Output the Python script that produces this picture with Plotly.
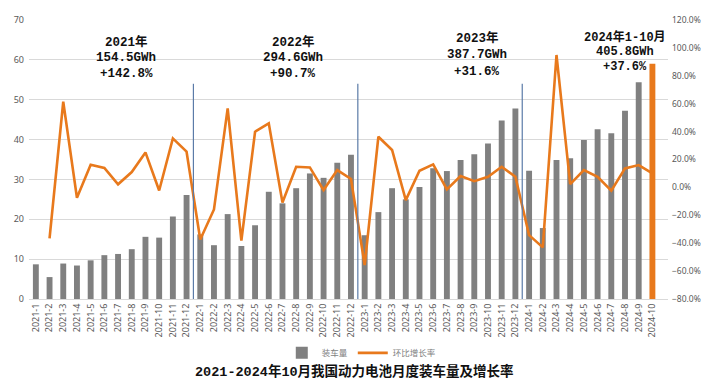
import plotly.graph_objects as go

years = [2021, 2022, 2023, 2024]
months_per_year = [12, 12, 12, 10]
categories = [f"{y}-{m}" for y, n in zip(years, months_per_year) for m in range(1, n + 1)]

install_2021 = [8.7, 5.5, 8.9, 8.4, 9.7, 11.0, 11.3, 12.5, 15.6, 15.4, 20.7, 26.1]
install_2022 = [16.2, 13.5, 21.3, 13.3, 18.5, 26.9, 24.0, 27.8, 31.5, 30.4, 34.2, 36.2]
install_2023 = [16.0, 21.8, 27.8, 25.0, 28.1, 32.8, 32.1, 34.9, 36.3, 39.0, 44.8, 47.8]
install_2024 = [32.2, 17.8, 34.9, 35.3, 39.9, 42.6, 41.6, 47.2, 54.4, 59.0]

mom_2021 = [None, -36.6, 61.4, -7.4, 16.2, 13.9, 2.2, 11.0, 25.1, -2.2, 35.1, 25.6]
mom_2022 = [-37.3, -15.8, 56.6, -38.2, 39.9, 45.9, -10.8, 14.8, 14.3, -1.9, 12.4, 6.0]
mom_2023 = [-55.7, 36.3, 26.8, -9.1, 11.9, 16.5, -1.4, 8.1, 4.5, 7.6, 14.8, 7.6]
mom_2024 = [-34.2, -43.0, 94.9, 2.4, 12.4, 7.6, -2.4, 13.6, 16.0, 10.0]

year_labels = ["2021年", "2022年", "2023年", "2024年1-10月"]
year_totals = ["154.5GWh", "294.6GWh", "387.7GWh", "405.8GWh"]
year_growth = ["+142.8%", "+90.7%", "+31.6%", "+37.6%"]

install = install_2021 + install_2022 + install_2023 + install_2024
mom = mom_2021 + mom_2022 + mom_2023 + mom_2024

GREY = "#808080"
ORANGE = "#E8791C"
bar_colors = [GREY] * (len(install) - 1) + [ORANGE]

mono = "Liberation Mono, Noto Sans Mono CJK SC, Noto Sans CJK SC"
tickfont = dict(family="Noto Sans, Noto Sans CJK SC", size=9, color="#595959")

fig = go.Figure()
fig.add_trace(go.Bar(x=categories, y=install, name="装车量", marker_color=bar_colors,
                     marker_line_width=0, yaxis="y"))
fig.add_trace(go.Scatter(x=categories, y=mom, name="环比增长率", mode="lines",
                         line=dict(color=ORANGE, width=2.6), yaxis="y2", connectgaps=False))

shapes = []
annotations = []
# annotation layout: paper-y of first line centre, line step (paper), x offset, font size
ann_y = [0.921, 0.921, 0.935, 0.939]
ann_step = [0.0573, 0.0573, 0.0600, 0.0530]
ann_dx = [1.1, 1.3, 2.7, 2.5]
ann_size = [12.5, 12.5, 12.5, 12]
start = 0
for i, n in enumerate(months_per_year):
    end = start + n
    if i < len(months_per_year) - 1:
        shapes.append(dict(type="line", xref="x", yref="y", x0=end - 0.5, x1=end - 0.5,
                           y0=0, y1=54, line=dict(color="#5B7BA8", width=1.2)))
    center = (start + end - 1) / 2 + ann_dx[i]
    for k, txt in enumerate([year_labels[i], year_totals[i], year_growth[i]]):
        annotations.append(dict(
            x=center, y=ann_y[i] - k * ann_step[i], xref="x", yref="paper", yanchor="middle",
            text=txt, showarrow=False, align="center",
            font=dict(family=mono, size=ann_size[i], color="#111111", weight="bold")))
    start = end

annotations.append(dict(
    x=0.5, y=0.0, xref="paper", yref="paper", xanchor="center", yanchor="middle",
    xshift=6, yshift=-72,
    text="<b>2021-2024年10月我国动力电池月度装车量及增长率</b>", showarrow=False,
    font=dict(family=mono, size=13.5, color="#111111")))

fig.update_layout(
    width=720, height=380,
    margin=dict(l=29, r=52, t=20, b=81, autoexpand=False),
    paper_bgcolor="white", plot_bgcolor="white",
    bargap=0.57,
    showlegend=True,
    legend=dict(orientation="h", x=0.52, xanchor="center", y=-0.141, yanchor="top",
                font=dict(family="Noto Sans CJK SC", size=8.5, color="#7f7f7f"),
                traceorder="normal", tracegroupgap=0, itemwidth=30),
    xaxis=dict(type="category", tickangle=-90, automargin=False,
               tickfont=dict(family="Noto Sans, Noto Sans CJK SC", size=9, color="#595959"),
               showgrid=False, showline=True, linecolor="#d9d9d9", ticks="", ticklen=0),
    yaxis=dict(range=[0, 70], dtick=10, tickfont=tickfont, showgrid=True, gridcolor="#d9d9d9",
               zeroline=False, showline=False, ticks="", ticklabelstandoff=4, automargin=False),
    yaxis2=dict(range=[-80, 120], dtick=20, overlaying="y", side="right",
                tickfont=dict(family="Noto Sans, Noto Sans CJK SC", size=8.5, color="#595959"),
                ticksuffix="%", tickformat=".1f", showgrid=False, zeroline=False, ticks="",
                ticklabelstandoff=3, automargin=False),
    shapes=shapes,
    annotations=annotations,
)

fig.write_html("out.html", config={"displayModeBar": False},
               post_script="document.body.style.margin='0';document.body.style.overflow='hidden';")
